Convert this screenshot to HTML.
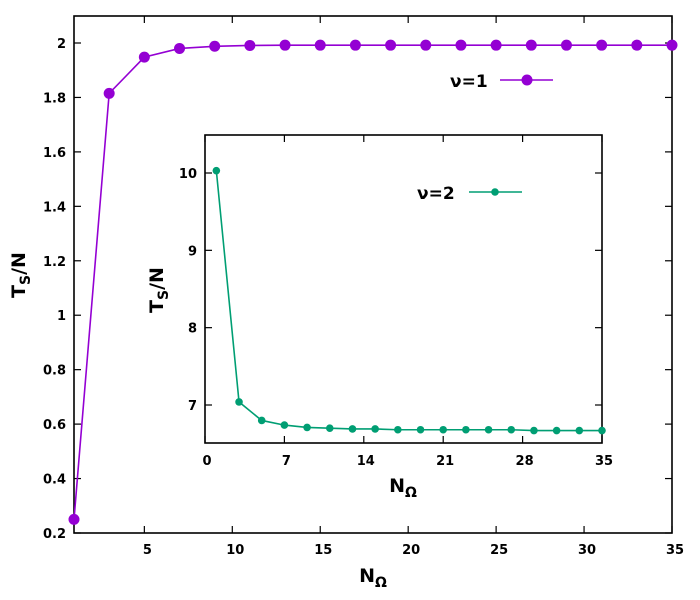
<!DOCTYPE html>
<html><head><meta charset="utf-8"><style>
body{margin:0;background:#fff}
svg{display:block;font-family:"DejaVu Sans","Liberation Sans",sans-serif;font-weight:bold}
</style></head><body>
<svg id="c" width="700" height="600" viewBox="0 0 700 600">
<rect width="700" height="600" fill="#fff"/>
</svg>
<script>
const mainX=[1,3,5,7,9,11,13,15,17,19,21,23,25,27,29,31,33,35];
const mainY=[0.25,1.815,1.948,1.98,1.988,1.991,1.992,1.992,1.992,1.992,1.992,1.992,1.992,1.992,1.992,1.992,1.992,1.992];
const mainXTicks=[5,10,15,20,25,30,35];
const mainYTicks=[0.2,0.4,0.6,0.8,1,1.2,1.4,1.6,1.8,2];
const insetX=[1,3,5,7,9,11,13,15,17,19,21,23,25,27,29,31,33,35];
const insetY=[10.03,7.04,6.8,6.74,6.71,6.7,6.69,6.69,6.68,6.68,6.68,6.68,6.68,6.68,6.67,6.67,6.67,6.67];
const insetXTicks=[0,7,14,21,28,35];
const insetYTicks=[7,8,9,10];

const NS="http://www.w3.org/2000/svg";
const svg=document.getElementById('c');
function el(t,a,p){const e=document.createElementNS(NS,t);for(const k in a)e.setAttribute(k,a[k]);(p||svg).appendChild(e);return e;}

const mx=v=>74+(v-1)*(672-74)/34;
const my=v=>533-(v-0.2)*(533-43)/1.8;
const ix=v=>205+v*(602-205)/35;
const iy=v=>405-(v-7)*(405-173)/3;

function frame(x0,y0,x1,y1,name){
  const r=el('rect',{x:x0,y:y0,width:x1-x0,height:y1-y0,fill:'#fff',stroke:'#000','stroke-width':1.6});
  
  
}
frame(74,16,672,533,'main-plot-frame');

const g1=el('g',{});


mainXTicks.forEach(t=>{const x=mx(t);
  el('line',{x1:x,y1:533,x2:x,y2:526,stroke:'#000','stroke-width':1.2},g1);
  el('line',{x1:x,y1:16,x2:x,y2:23,stroke:'#000','stroke-width':1.2},g1);
  const tx=el('text',{x:x+3,y:554,'font-size':13,'text-anchor':'middle'},g1);tx.textContent=t;
  
  
});
const g2=el('g',{});


mainYTicks.forEach(t=>{const y=my(t);
  el('line',{x1:74,y1:y,x2:81,y2:y,stroke:'#000','stroke-width':1.2},g2);
  el('line',{x1:672,y1:y,x2:665,y2:y,stroke:'#000','stroke-width':1.2},g2);
  const tx=el('text',{x:66,y:y+5,'font-size':13,'text-anchor':'end'},g2);tx.textContent=String(t);
  
  
});

const l1=el('polyline',{points:mainX.map((v,i)=>mx(v)+','+my(mainY[i])).join(' '),fill:'none',stroke:'#9400d3','stroke-width':1.6});


mainX.forEach((v,i)=>{const c=el('circle',{cx:mx(v),cy:my(mainY[i]),r:5.5,fill:'#9400d3'});
  
  });

const lt1=el('text',{x:450,y:87,'font-size':17},svg);lt1.textContent='ν=1';


const ll1=el('line',{x1:500,y1:80,x2:553,y2:80,stroke:'#9400d3','stroke-width':1.6});


const lc1=el('circle',{cx:527,cy:80,r:5.5,fill:'#9400d3'});



const xt=el('text',{x:373,y:582,'font-size':19,'text-anchor':'middle'});
xt.innerHTML='N<tspan font-size="14" dy="5">Ω</tspan>';


const yt=el('text',{transform:'translate(25,275) rotate(-90)','font-size':19,'text-anchor':'middle'});
yt.innerHTML='T<tspan font-size="14" dy="5">S</tspan><tspan dy="-5">/N</tspan>';



frame(205,135,602,443,'inset-plot-frame');
const g3=el('g',{});


insetXTicks.forEach(t=>{const x=ix(t);
  el('line',{x1:x,y1:443,x2:x,y2:436,stroke:'#000','stroke-width':1.2},g3);
  el('line',{x1:x,y1:135,x2:x,y2:142,stroke:'#000','stroke-width':1.2},g3);
  const tx=el('text',{x:x+2,y:465,'font-size':13,'text-anchor':'middle'},g3);tx.textContent=t;
  
  
});
const g4=el('g',{});


insetYTicks.forEach(t=>{const y=iy(t);
  el('line',{x1:205,y1:y,x2:212,y2:y,stroke:'#000','stroke-width':1.2},g4);
  el('line',{x1:602,y1:y,x2:595,y2:y,stroke:'#000','stroke-width':1.2},g4);
  const tx=el('text',{x:197,y:y+5,'font-size':13,'text-anchor':'end'},g4);tx.textContent=t;
  
  
});
const l2=el('polyline',{points:insetX.map((v,i)=>ix(v)+','+iy(insetY[i])).join(' '),fill:'none',stroke:'#009e73','stroke-width':1.6});


insetX.forEach((v,i)=>{const c=el('circle',{cx:ix(v),cy:iy(insetY[i]),r:3.8,fill:'#009e73'});
  
  });

const lt2=el('text',{x:417,y:199,'font-size':17});lt2.textContent='ν=2';


const ll2=el('line',{x1:469,y1:192,x2:522,y2:192,stroke:'#009e73','stroke-width':1.6});


const lc2=el('circle',{cx:495,cy:192,r:3.8,fill:'#009e73'});



const ixt=el('text',{x:403,y:492,'font-size':19,'text-anchor':'middle'});
ixt.innerHTML='N<tspan font-size="14" dy="5">Ω</tspan>';


const iyt=el('text',{transform:'translate(163,290) rotate(-90)','font-size':19,'text-anchor':'middle'});
iyt.innerHTML='T<tspan font-size="14" dy="5">S</tspan><tspan dy="-5">/N</tspan>';


</script>
</body></html>
